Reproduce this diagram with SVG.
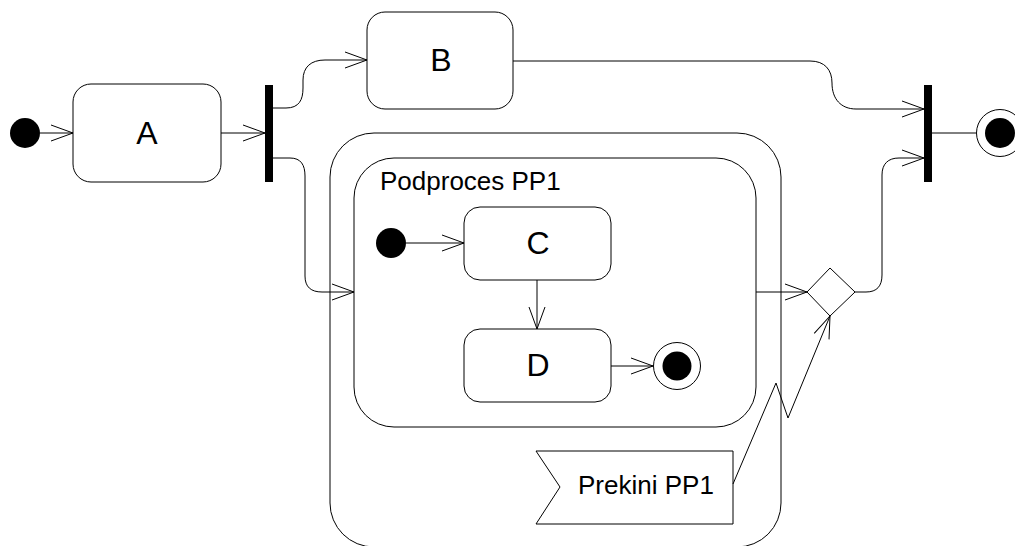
<svg xmlns="http://www.w3.org/2000/svg" width="1015" height="546" viewBox="0 0 1015 546">
<style>
.box{fill:#fff;stroke:#000;stroke-width:1}
.ln{fill:none;stroke:#000;stroke-width:1}
.big{font-family:"Liberation Sans",Arial,sans-serif;font-size:32px;text-anchor:middle;fill:#000}
.lbl{font-family:"Liberation Sans",Arial,sans-serif;font-size:26px;fill:#000}
.dot{fill:#000}
.ring{fill:#fff;stroke:#000;stroke-width:1}
</style>
<defs>
<marker id="arr" markerUnits="userSpaceOnUse" markerWidth="30" markerHeight="20" viewBox="-24 -10 26 20" refX="0" refY="0" orient="auto" overflow="visible">
<path d="M-22,-8 L0,0 L-22,8" fill="none" stroke="#000" stroke-width="1"/>
</marker>
</defs>
<rect width="1015" height="546" fill="#fff"/>
<g id="pp1-outer"><rect class="box" x="330" y="133" width="451" height="414" rx="44" ry="44"/></g>
<g id="pp1-inner"><rect class="box" x="354" y="158" width="402" height="269" rx="40" ry="40"/>
<text class="lbl" x="380" y="190">Podproces PP1</text></g>
<g id="start"><circle class="dot" cx="25" cy="133" r="15"/></g>
<g id="A"><rect class="box" x="73" y="84" width="148" height="98" rx="18" ry="18"/><text class="big" x="147" y="144">A</text></g>
<g id="fork"><rect class="dot" x="265" y="85" width="8" height="97"/></g>
<g id="B"><rect class="box" x="367" y="12" width="146" height="97" rx="18" ry="18"/><text class="big" x="441" y="71">B</text></g>
<g id="start2"><circle class="dot" cx="391" cy="243" r="15"/></g>
<g id="C"><rect class="box" x="464" y="207" width="147" height="73" rx="16" ry="16"/><text class="big" x="538" y="254">C</text></g>
<g id="D"><rect class="box" x="464" y="329" width="147" height="73" rx="16" ry="16"/><text class="big" x="538" y="376">D</text></g>
<g id="end2"><circle class="ring" cx="677" cy="366" r="23.5"/><circle class="dot" cx="677" cy="366" r="14.5"/></g>
<g id="merge"><path class="box" d="M807,292 L830,268 L855,292 L830,316 Z"/></g>
<g id="join"><rect class="dot" x="924" y="85" width="8" height="97"/></g>
<g id="end"><circle class="ring" cx="1000" cy="133" r="23.5"/><circle class="dot" cx="1000" cy="133" r="15"/></g>
<g id="prekini"><path class="box" d="M536,451 H733 V524 H536 L560,487 Z"/><text class="lbl" x="578" y="494">Prekini PP1</text></g>
<g id="connectors">
<path class="ln" d="M40,133 H73" marker-end="url(#arr)"/>
<path class="ln" d="M221,133 H265" marker-end="url(#arr)"/>
<path class="ln" d="M273,108 H286 C299,108 303,100 303,88 V80 C303,67 311,60 325,60 H367" marker-end="url(#arr)"/>
<path class="ln" d="M273,158 H290 C301,158 305,165 305,176 V276 C305,287 311,292 322,292 H354" marker-end="url(#arr)"/>
<path class="ln" d="M513,61 H810 C825,61 832,70 832,83 C832,99 841,109 856,109 H924" marker-end="url(#arr)"/>
<path class="ln" d="M406,243 H464" marker-end="url(#arr)"/>
<path class="ln" d="M537,280 V329" marker-end="url(#arr)"/>
<path class="ln" d="M611,366 H653" marker-end="url(#arr)"/>
<path class="ln" d="M756,292 H807" marker-end="url(#arr)"/>
<path class="ln" d="M855,292 H866 C877,292 882,286 882,275 V175 C882,164 888,158 899,158 H924" marker-end="url(#arr)"/>
<path class="ln" d="M932,133 H976"/>
<path class="ln" d="M733,484 L776,383 L788,418 L830,316" marker-end="url(#arr)"/>
</g>
</svg>
